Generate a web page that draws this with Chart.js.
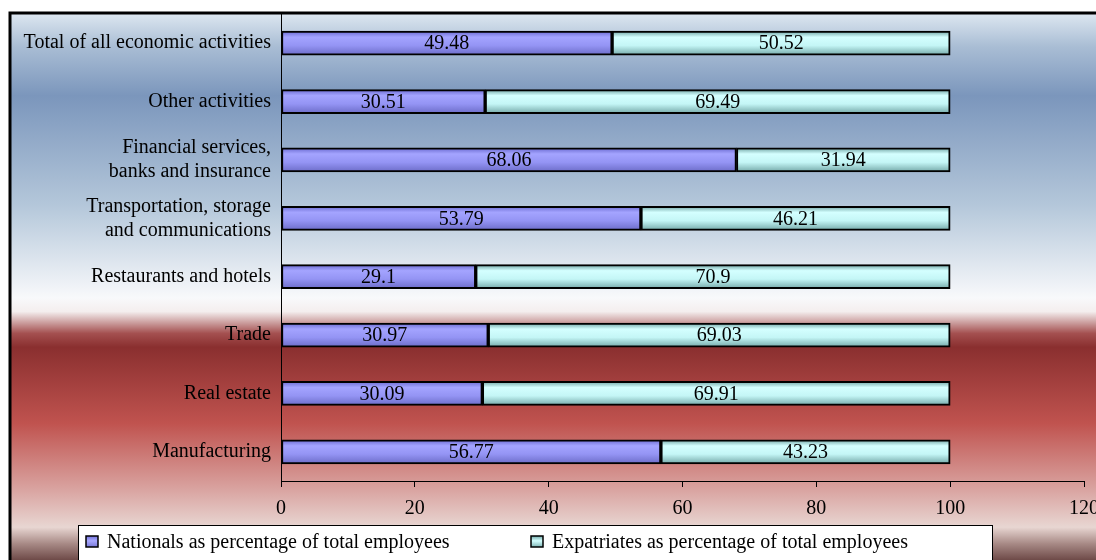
<!DOCTYPE html>
<html>
<head>
<meta charset="utf-8">
<script src="https://cdn.jsdelivr.net/npm/chart.js@4"></script>
<style>
  html, body { margin: 0; padding: 0; background: #fff; }
  #wrap { width: 1096px; height: 560px; }
</style>
</head>
<body>
<div id="wrap"><canvas id="chart" width="1096" height="560"></canvas></div>
<script>
// categorias (de arriba hacia abajo)
const categories = [
  "Total of all economic activities",
  "Other activities",
  ["Financial services,", "banks and insurance"],
  ["Transportation, storage", "and communications"],
  "Restaurants and hotels",
  "Trade",
  "Real estate",
  "Manufacturing"
];
const nationals = [49.48, 30.51, 68.06, 53.79, 29.1, 30.97, 30.09, 56.77];
const expatriates = [50.52, 69.49, 31.94, 46.21, 70.9, 69.03, 69.91, 43.23];
const xTicks = [0, 20, 40, 60, 80, 100, 120];
const seriesNames = [
  "Nationals as percentage of total employees",
  "Expatriates as percentage of total employees"
];

const FONT = "'Liberation Serif', 'Times New Roman', serif";
const BAR_H = 24;

// degradado vertical por barra
function barGradient(stops) {
  return function (ctx) {
    if (ctx.type !== 'data') return stops[1][1];
    const chart = ctx.chart;
    const yScale = chart.scales.y;
    if (!yScale) return stops[1][1];
    const yc = yScale.getPixelForValue(ctx.dataIndex);
    if (!isFinite(yc)) return stops[1][1];
    const g = chart.ctx.createLinearGradient(0, yc - BAR_H / 2, 0, yc + BAR_H / 2);
    stops.forEach(s => g.addColorStop(s[0], s[1]));
    return g;
  };
}
const blueStops = [[0, '#6a6ad0'], [0.25, '#a4a4ff'], [0.6, '#9494f4'], [1, '#6c6cc8']];
const cyanStops = [[0, '#6fa3a3'], [0.25, '#d4ffff'], [0.6, '#c4f6f6'], [1, '#74a8a8']];

// fondo con degradado y marco
const backgroundPlugin = {
  id: 'bgFrame',
  beforeDraw(chart) {
    const c = chart.ctx;
    const g = c.createLinearGradient(0, 14, 0, 560);
    g.addColorStop(0.00, '#dce6f0');
    g.addColorStop(0.06, '#a9bdd4');
    g.addColorStop(0.15, '#7b96bc');
    g.addColorStop(0.35, '#b4c7da');
    g.addColorStop(0.52, '#f8f9fb');
    g.addColorStop(0.545, '#f4eeee');
    g.addColorStop(0.585, '#a45050');
    g.addColorStop(0.61, '#8a2f2f');
    g.addColorStop(0.75, '#c0534f');
    g.addColorStop(0.87, '#d9a3a0');
    g.addColorStop(0.94, '#e8d6d2');
    g.addColorStop(0.97, '#a88a86');
    g.addColorStop(1.00, '#6e4a48');
    c.save();
    c.fillStyle = '#ffffff';
    c.fillRect(0, 0, 1096, 560);
    c.fillStyle = g;
    c.fillRect(11, 14, 1085, 546);
    c.strokeStyle = '#000';
    c.lineWidth = 3;
    c.beginPath();
    c.moveTo(10, 560);
    c.lineTo(10, 13);
    c.lineTo(1096, 13);
    c.stroke();
    c.restore();
  }
};

// etiquetas de valores dentro de cada segmento
const valueLabels = {
  id: 'valueLabels',
  afterDatasetsDraw(chart) {
    const c = chart.ctx;
    c.save();
    c.font = '20px ' + FONT;
    c.fillStyle = '#000';
    c.textAlign = 'center';
    c.textBaseline = 'middle';
    chart.data.datasets.forEach((ds, i) => {
      const meta = chart.getDatasetMeta(i);
      meta.data.forEach((bar, j) => {
        const cx = (bar.x + bar.base) / 2;
        c.fillText(String(ds.data[j]), cx, bar.y + 1);
      });
    });
    c.restore();
  }
};

// leyenda dibujada a mano
const legendBox = {
  id: 'legendBox',
  afterDraw(chart) {
    const c = chart.ctx;
    c.save();
    c.fillStyle = '#fff';
    c.fillRect(78, 525, 914, 40);
    c.strokeStyle = '#000';
    c.lineWidth = 1;
    c.strokeRect(78.5, 525.5, 914, 40);
    const xs = [86, 531];
    const fills = [['#7070d8', '#a8a8ff', '#7070d0'], ['#70a8a8', '#d4ffff', '#70a8a8']];
    c.font = '20px ' + FONT;
    c.textBaseline = 'middle';
    c.textAlign = 'left';
    chart.data.datasets.forEach((ds, i) => {
      const x = xs[i];
      const g = c.createLinearGradient(0, 536, 0, 548);
      g.addColorStop(0, fills[i][0]);
      g.addColorStop(0.4, fills[i][1]);
      g.addColorStop(1, fills[i][2]);
      c.fillStyle = g;
      c.fillRect(x, 536, 12, 11);
      c.lineWidth = 1.5;
      c.strokeStyle = '#000';
      c.strokeRect(x, 536, 12, 11);
      c.fillStyle = '#000';
      c.fillText(ds.label, x + 21, 543);
    });
    c.restore();
  }
};

new Chart(document.getElementById('chart'), {
  type: 'bar',
  data: {
    labels: categories,
    datasets: [
      {
        label: seriesNames[0],
        data: nationals,
        backgroundColor: barGradient(blueStops),
        borderColor: '#000',
        borderWidth: 2,
        borderSkipped: false,
        barThickness: BAR_H
      },
      {
        label: seriesNames[1],
        data: expatriates,
        backgroundColor: barGradient(cyanStops),
        borderColor: '#000',
        borderWidth: 2,
        borderSkipped: false,
        barThickness: BAR_H
      }
    ]
  },
  options: {
    indexAxis: 'y',
    responsive: false,
    animation: false,
    layout: { padding: { top: 14, left: 10, right: 12, bottom: 0 } },
    plugins: {
      legend: { display: false },
      tooltip: { enabled: false }
    },
    scales: {
      x: {
        stacked: true,
        min: 0,
        max: 120,
        afterBuildTicks(scale) {
          scale.ticks = xTicks.map(v => ({ value: v }));
        },
        afterFit(scale) {
          scale.height = 79;
          scale.paddingLeft = 0;
          scale.paddingRight = 12;
        },
        grid: { display: true, drawOnChartArea: false, drawTicks: true, tickLength: 6, color: '#000' },
        border: { display: true, color: '#000', width: 1 },
        ticks: { color: '#000', padding: 10, font: { family: FONT, size: 20 }, maxRotation: 0 }
      },
      y: {
        stacked: true,
        afterFit(scale) {
          scale.width = 271;
          scale.paddingTop = 0;
          scale.paddingBottom = 0;
        },
        grid: { display: false },
        border: { display: true, color: '#000', width: 1 },
        ticks: { color: '#000', padding: 2, font: { family: FONT, size: 20, lineHeight: 1.2 } }
      }
    }
  },
  plugins: [backgroundPlugin, valueLabels, legendBox]
});
</script>
</body>
</html>
